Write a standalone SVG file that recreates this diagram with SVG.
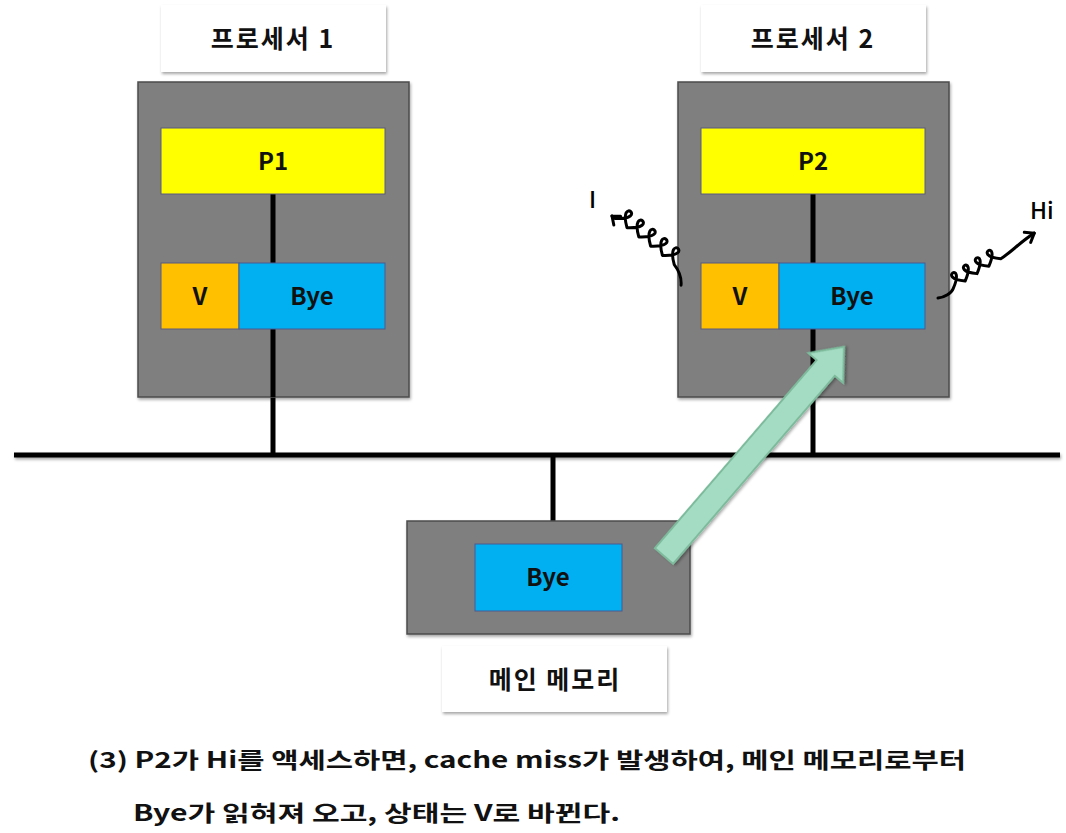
<svg xmlns="http://www.w3.org/2000/svg" width="1066" height="833" viewBox="0 0 1066 833">
<defs>
<filter id="sh" x="-10%" y="-10%" width="130%" height="140%">
<feDropShadow dx="1" dy="2" stdDeviation="1.5" flood-color="#000" flood-opacity="0.35"/>
</filter>
<filter id="shl" filterUnits="userSpaceOnUse" x="0" y="0" width="1066" height="833">
<feDropShadow dx="1" dy="2" stdDeviation="1.5" flood-color="#000" flood-opacity="0.35"/>
</filter>
<style>
.lbl{fill:#fff;filter:url(#sh)}
.box{fill:#7f7f7f;stroke:#4d4d4d;stroke-width:1.5;filter:url(#sh)}
.cpu{fill:#ffff00;stroke:#5a5a80;stroke-width:1}
.st{fill:#ffc000;stroke:#5a5a80;stroke-width:1}
.data{fill:#00b0f0;stroke:#4a5a90;stroke-width:1}
.t{font-family:"Noto Sans CJK KR","Noto Sans",sans-serif;font-weight:bold;font-size:24px;fill:#111;text-anchor:middle}
.k{font-size:25px;letter-spacing:2px}
.wire{stroke:#000;stroke-width:5;fill:none}
.sq{stroke:#000;stroke-width:3;fill:none;stroke-linecap:round;stroke-linejoin:round}
.hw{font-family:"Noto Sans CJK KR","Noto Sans",sans-serif;font-size:23px;fill:#000;font-weight:500}
</style>
</defs>
<rect width="1066" height="833" fill="#fff"/>

<g id="connectors">
<line class="wire" x1="14" y1="455" x2="1060" y2="455" filter="url(#shl)"/>
<line class="wire" x1="273" y1="397" x2="273" y2="455"/>
<line class="wire" x1="813" y1="397" x2="813" y2="455"/>
<line class="wire" x1="553" y1="455" x2="553" y2="521"/>
</g>

<g id="label-p1">
<rect class="lbl" x="161" y="5" width="225" height="67"/>
<text class="t k" x="273" y="48">프로세서 1</text>
</g>
<g id="label-p2">
<rect class="lbl" x="701" y="5" width="225" height="67"/>
<text class="t k" x="813" y="48">프로세서 2</text>
</g>

<g id="processor1">
<rect class="box" x="138" y="82" width="271" height="315"/>
<line class="wire" x1="273" y1="194" x2="273" y2="397"/>
<rect class="cpu" x="161" y="128" width="224" height="66"/>
<text class="t" x="273" y="170">P1</text>
<rect class="st" x="161" y="263" width="78" height="66"/>
<text class="t" x="200" y="305">V</text>
<rect class="data" x="239" y="263" width="146" height="66"/>
<text class="t" x="312" y="305">Bye</text>
</g>

<g id="processor2">
<rect class="box" x="678" y="82" width="271" height="315"/>
<line class="wire" x1="813" y1="194" x2="813" y2="397"/>
<rect class="cpu" x="701" y="128" width="224" height="66"/>
<text class="t" x="813" y="170">P2</text>
<rect class="st" x="701" y="263" width="78" height="66"/>
<text class="t" x="740" y="305">V</text>
<rect class="data" x="779" y="263" width="146" height="66"/>
<text class="t" x="852" y="305">Bye</text>
</g>

<g id="memory">
<rect class="box" x="407" y="521" width="283" height="113"/>
<rect class="data" x="475" y="544" width="147" height="67"/>
<text class="t" x="548" y="586">Bye</text>
</g>
<g id="label-mem">
<rect class="lbl" x="442" y="646" width="225" height="66"/>
<text class="t k" x="555" y="689" letter-spacing="4">메인 메모리</text>
</g>

<g id="arrow">
<polygon transform="translate(664,556) rotate(-49.3)" points="0,-12 248,-12 248,-23 276,0 248,23 248,12 0,12" fill="#a3dcc2" stroke="#7dbb9c" stroke-width="2" filter="url(#sh)"/>
</g>

<g id="squiggle-I">
<text class="hw" x="589" y="208">I</text>
<g transform="translate(612,216) rotate(38)">
<path class="sq" d="M0,0 l7,-5 M0,0 l7,6"/>
<path class="sq" d="M0,0 l4,0 c28,-20 -12,-20 15,0 c28,-20 -12,-20 15,0 c28,-20 -12,-20 15,0 c28,-20 -12,-20 15,0 c28,-20 -12,-20 15,0 c8,2 14,6 18,12"/>
</g>
</g>

<g id="squiggle-Hi">
<text class="hw" x="1030" y="219">Hi</text>
<g transform="translate(938,298) rotate(-32)">
<path class="sq" d="M0,0 c6,3 14,3 18,0 c26,-18 -10,-18 14,0 c26,-18 -10,-18 14,0 c26,-18 -10,-18 14,0 c26,-18 -10,-18 14,0 c12,0 26,-4 42,-4"/>
<path class="sq" d="M116,-4 l-8,-6 M116,-4 l-8,6"/>
</g>
</g>

<g id="caption">
<text x="88" y="768" font-family="Noto Sans CJK KR,sans-serif" font-weight="bold" font-size="22" fill="#111" textLength="878" lengthAdjust="spacingAndGlyphs">(3) P2가 Hi를 액세스하면, cache miss가 발생하여, 메인 메모리로부터</text>
<text x="133" y="821" font-family="Noto Sans CJK KR,sans-serif" font-weight="bold" font-size="22" fill="#111" textLength="487" lengthAdjust="spacingAndGlyphs">Bye가 읽혀져 오고, 상태는 V로 바뀐다.</text>
</g>
</svg>
